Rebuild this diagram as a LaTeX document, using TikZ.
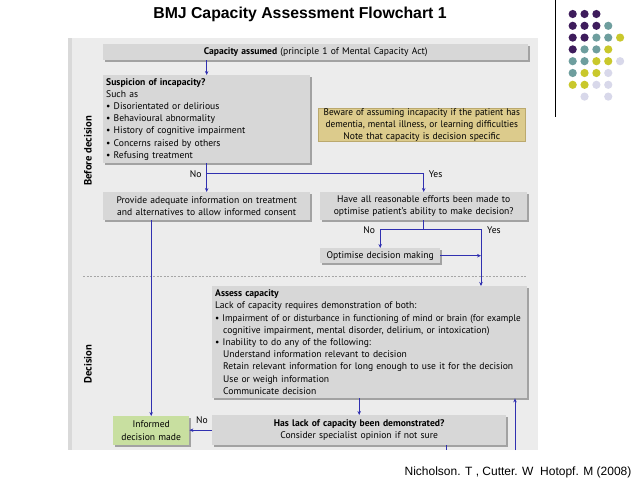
\documentclass[tikz,border=0pt]{standalone}
\usepackage{fontspec}
\usepackage{graphicx}
\setmainfont{PT Sans}
\newfontfamily\arialfont{Liberation Sans}
\usetikzlibrary{shadows,arrows.meta,calc}
\definecolor{panelgray}{HTML}{ECECEC}
\definecolor{stripgray}{HTML}{D9D9D9}
\definecolor{boxgray}{HTML}{D7D7D7}
\definecolor{shadowgray}{HTML}{A2A2A2}
\definecolor{tanbox}{HTML}{DCCB8C}
\definecolor{tanedge}{HTML}{BBA96E}
\definecolor{greenbox}{HTML}{C8DFA0}
\definecolor{flowblue}{HTML}{3030B0}
\definecolor{dotpurple}{HTML}{3E1C5C}
\definecolor{dotteal}{HTML}{6E9E9E}
\definecolor{dotyellow}{HTML}{C9C82C}
\definecolor{dotlav}{HTML}{D8D8EA}
\newcommand{\dfont}{\fontsize{9.6}{12.2}\selectfont}
\newcommand{\narrowline}[1]{\scalebox{0.965}[1]{#1}}
\tikzset{
  gbox/.style={fill=boxgray, anchor=north west, inner xsep=3pt, inner ysep=0pt,
    font=\dfont, drop shadow={shadow xshift=1.3pt, shadow yshift=-1.3pt, fill=shadowgray, opacity=1}},
  flow/.style={draw=flowblue, line width=0.9pt},
  arr/.style={flow, -{Stealth[length=4pt,width=3.5pt]}},
  lbl/.style={font=\dfont, inner sep=0pt},
  side/.style={font=\fontsize{10.6}{12}\selectfont\bfseries, rotate=90, inner sep=0pt},
  dot/.style={circle, inner sep=0pt, minimum size=8.2pt},
}
\begin{document}
\begin{tikzpicture}[x=1pt,y=-1pt]
\useasboundingbox (0,0) rectangle (638,479);
\fill[white] (0,0) rectangle (638,479);
% title
\node[font=\arialfont\fontsize{15.8}{18}\selectfont\bfseries, inner sep=0pt] (title) at (300,14) {BMJ Capacity Assessment Flowchart 1};
% dots
\foreach \r/\c/\col in {0/0/dotpurple,0/1/dotpurple,0/2/dotpurple,
  1/0/dotpurple,1/1/dotpurple,1/2/dotpurple,1/3/dotteal,
  2/0/dotpurple,2/1/dotpurple,2/2/dotteal,2/3/dotteal,2/4/dotyellow,
  3/0/dotpurple,3/1/dotteal,3/2/dotteal,3/3/dotyellow,
  4/0/dotteal,4/1/dotteal,4/2/dotyellow,4/3/dotyellow,4/4/dotlav,
  5/0/dotteal,5/1/dotyellow,5/2/dotyellow,5/3/dotlav,
  6/0/dotyellow,6/1/dotyellow,6/2/dotlav,6/3/dotlav,
  7/1/dotlav,7/3/dotlav}
  \node[dot, fill=\col] (d\r\c) at (572.7+11.85*\c, 14+11.8*\r) {};
\draw[black, line width=0.6pt] (555,0) -- (555,117);
% panel
\fill[panelgray] (68,38) rectangle (538,450);
\fill[stripgray] (68,38) rectangle (71.5,450);
\draw[gray!70, line width=0.5pt, dash pattern=on 2pt off 1.5pt] (83,276) -- (527,276);
% side labels
\node[side] (before) at (88,151) {Before decision};
\node[side] (decision) at (88,364) {Decision};
% boxes
\node[gbox, text width=419pt, minimum height=16pt, align=center] (cap) at (103,44)
  {\textbf{Capacity assumed} (principle 1 of Mental Capacity Act)};
\node[gbox, text width=201pt, minimum height=88pt, align=left] (susp) at (103,75)
  {\textbf{Suspicion of incapacity?}\\ Such as\\ • Disorientated or delirious\\ • Behavioural abnormality\\ • History of cognitive impairment\\ • Concerns raised by others\\ • Refusing treatment};
\node[anchor=north west, fill=tanbox, draw=tanedge, line width=0.6pt, text width=201pt, minimum height=32pt, inner xsep=3pt, inner ysep=0pt, align=center, font=\dfont] (beware) at (318,108)
  {\narrowline{Beware of assuming incapacity if the patient has}\\ \narrowline{dementia, mental illness, or learning difficulties}\\ \mbox{Note that capacity is decision specific}};
\node[gbox, text width=201pt, minimum height=28pt, align=center] (provide) at (103,192)
  {\mbox{Provide adequate information on treatment}\\ \mbox{and alternatives to allow informed consent}};
\node[gbox, text width=201pt, minimum height=28pt, align=center] (haveall) at (320,192)
  {\mbox{Have all reasonable efforts been made to}\\ \mbox{optimise patient’s ability to make decision?}};
\node[gbox, text width=114pt, minimum height=15pt, align=center] (optimise) at (320,248)
  {Optimise decision making};
\node[gbox, text width=309pt, minimum height=112pt, align=left] (assess) at (212,286)
  {\textbf{Assess capacity}\\ Lack of capacity requires demonstration of both:\\
   \narrowline{• Impairment of or disturbance in functioning of mind or brain (for example}\\
   \hspace*{8pt}cognitive impairment, mental disorder, delirium, or intoxication)\\
   • Inability to do any of the following:\\
   \hspace*{8pt}Understand information relevant to decision\\
   \hspace*{8pt}\mbox{Retain relevant information for long enough to use it for the decision}\\
   \hspace*{8pt}Use or weigh information\\
   \hspace*{8pt}Communicate decision};
\node[gbox, text width=288pt, minimum height=30pt, align=center] (haslack) at (212,415)
  {\textbf{Has lack of capacity been demonstrated?}\\ Consider specialist opinion if not sure};
\node[anchor=north west, fill=greenbox, text width=70pt, minimum height=29pt, inner xsep=3pt, inner ysep=0pt, align=center, font=\dfont,
  drop shadow={shadow xshift=1.3pt, shadow yshift=-1.3pt, fill=shadowgray, opacity=1}] (informed) at (113,416)
  {Informed\\ decision made};
% connectors
\draw[arr] (cap.south -| susp.north) -- (susp.north);
\coordinate (j1) at ($(susp.south)+(0,10)$);
\draw[flow] (susp.south) -- (j1);
\draw[arr] (j1) -- (provide.north);
\draw[arr] (j1) -| (haveall.north);
\node[lbl, anchor=east] (no1) at ($(j1)+(-5,1)$) {No};
\node[lbl, anchor=west] (yes1) at ($(j1 -| haveall.north)+(5,1)$) {Yes};
\coordinate (j2) at ($(haveall.south)+(0,9)$);
\coordinate (ya) at (481,286);
\draw[flow] (haveall.south) -- (j2);
\draw[arr] (j2) -| (optimise.north);
\draw[arr] (j2) -| (ya);
\node[lbl, anchor=east] (no2) at ($(j2 -| optimise.north)+(-5,1)$) {No};
\node[lbl, anchor=west] (yes2) at ($(j2 -| ya)+(6,1)$) {Yes};
\draw[arr] (optimise.east) -- (optimise.east -| ya);
\draw[arr] (provide.south -| informed.north) -- (informed.north);
\draw[arr] (assess.south -| haslack.north) -- (haslack.north);
\draw[arr] (haslack.west) -- (haslack.west -| informed.east);
\node[lbl] (no3) at (202,420) {No};
\coordinate (cut1) at (446,450);
\coordinate (cut2) at (515,450);
\draw[flow] (haslack.south -| cut1) -- (cut1);
\draw[arr] (cut2) -- (cut2 |- assess.south);
% citation
\node[font=\arialfont\fontsize{12}{14}\selectfont, inner sep=0pt] (cite) at (518,472) {Nicholson. T , Cutter. W\ \ Hotopf. M (2008)};
\end{tikzpicture}
\end{document}
